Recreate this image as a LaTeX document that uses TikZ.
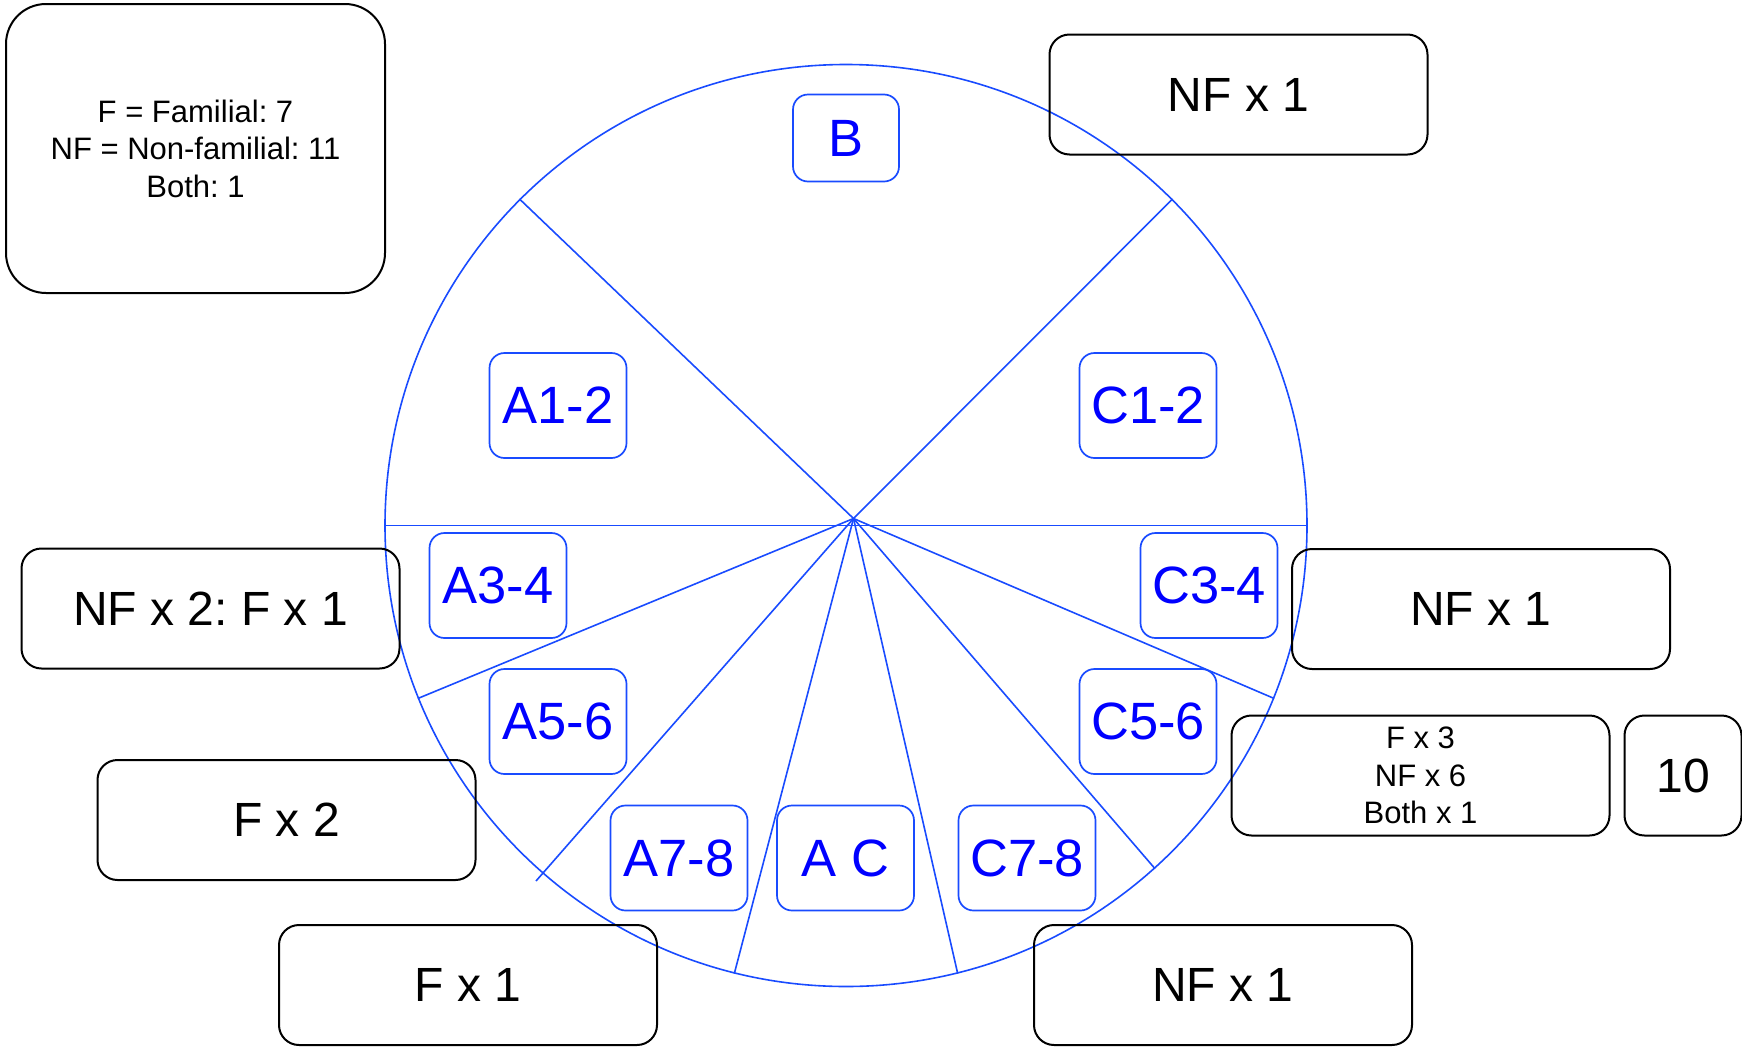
\documentclass[tikz,border=0pt]{standalone}
\usepackage{fontspec}
\setmainfont{Liberation Sans}
\frenchspacing
\definecolor{wheelblue}{RGB}{25,75,255}

\begin{document}
\begin{tikzpicture}[x=1pt,y=-1pt,
  wheel line/.style={draw=wheelblue,line width=1.6pt},
  count node/.style={draw,rounded corners=20pt,line width=2pt,
    minimum width=378pt,minimum height=120pt,
    font=\fontsize{48}{56}\selectfont},
  small text/.style={align=center,font=\fontsize{31}{37.5}\selectfont},
  sector node/.style={draw=wheelblue,text=blue,rounded corners=15pt,
    line width=1.7pt,minimum width=137pt,minimum height=105pt,
    font=\fontsize{52.5}{60}\selectfont}]

  \useasboundingbox (0,0) rectangle (1742,1047);

  % wheel, diameter and spokes
  \node[wheel line,circle,minimum size=922pt,inner sep=0pt] (wheel) at (846,525.5) {};
  \coordinate (hub) at (853.5,518.5);
  \coordinate (tail) at (536,881);
  \path[wheel line] (wheel.west) edge (wheel.east)
    (hub) edge (wheel.135) edge (wheel.45)
          edge (wheel.202) edge (tail) edge (wheel.256)
          edge (wheel.284) edge (wheel.312) edge (wheel.338);

  % sectors
  \node[sector node,minimum width=106pt,minimum height=87pt] (B) at (846,138) {B};
  \node[sector node] (A12) at (558,405.5) {A1-2};
  \node[sector node] (C12) at (1148,405.5) {C1-2};
  \node[sector node] (A34) at (498,585.5) {A3-4};
  \node[sector node] (C34) at (1209,585.5) {C3-4};
  \node[sector node] (A56) at (558,721.5) {A5-6};
  \node[sector node] (C56) at (1148,721.5) {C5-6};
  \node[sector node] (A78) at (679,858) {A7-8};
  \node[sector node] (AC)  at (845.5,858) {A C};
  \node[sector node] (C78) at (1027,858) {C7-8};

  % counts round the wheel
  \node[count node,small text,rounded corners=40pt,minimum width=379pt,
    minimum height=289pt] (key) at (195.5,148.5)
    {F = Familial: 7\\NF = Non-familial: 11\\Both: 1};
  \node[count node] (nfB)  at (1238.5,94.5) {NF x 1};
  \node[count node] (mixA) at (210.5,608.5) {NF x 2: F x 1};
  \node[count node] (nfC)  at (1481,609) {NF x 1};
  \node[count node,small text] (sum) at (1420.5,775.5) {F x 3\\NF x 6\\Both x 1};
  \node[count node,minimum width=117pt] (total) at (1683,775.5) {10};
  \node[count node] (fA5)  at (286.5,820) {F x 2};
  \node[count node] (fA7)  at (468,985) {F x 1};
  \node[count node] (nfC7) at (1223,985) {NF x 1};
\end{tikzpicture}
\end{document}
